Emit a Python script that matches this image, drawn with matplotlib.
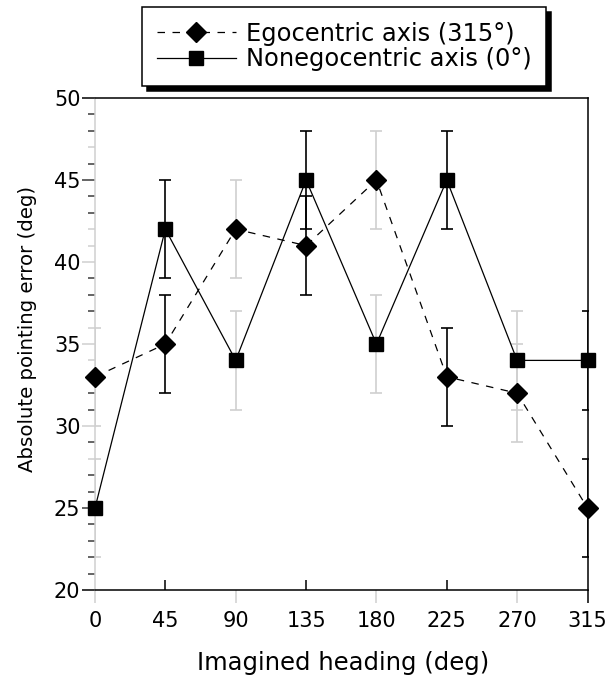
import matplotlib
matplotlib.use("Agg")
import matplotlib.pyplot as plt
import matplotlib.lines as mlines

plt.rcParams['font.family'] = ['DejaVu Sans']

# ---- data ----
headings = [0, 45, 90, 135, 180, 225, 270, 315]
ego = [33, 35, 42, 41, 45, 33, 32, 25]
ego_err = [3, 3, 3, 3, 3, 3, 3, 3]
nonego = [25, 42, 34, 45, 35, 45, 34, 34]
nonego_err = [3, 3, 3, 3, 3, 3, 3, 3]
x_ticks = [0, 45, 90, 135, 180, 225, 270, 315]
y_ticks = [20, 25, 30, 35, 40, 45, 50]
legend_labels = ["Egocentric axis (315°)", "Nonegocentric axis (0°)"]
xlabel = "Imagined heading (deg)"
ylabel = "Absolute pointing error (deg)"

DARK = '#3a3a3a'
LIGHT = '#cfcfcf'

W, H = 609, 678
fig = plt.figure(figsize=(W / 100, H / 100), dpi=100)
ax = fig.add_axes([95 / W, 1 - 590 / H, (587.5 - 95) / W, (590 - 98) / H])
ax.set_xlim(0, 315)
ax.set_ylim(20, 50)

# error bars: gray at even positions, black at odd positions
for idx_parity, col in ((0, LIGHT), (1, 'black')):
    idx = [i for i in range(len(headings)) if i % 2 == idx_parity]
    for vals, errs in ((ego, ego_err), (nonego, nonego_err)):
        ax.errorbar([headings[i] for i in idx], [vals[i] for i in idx],
                    yerr=[errs[i] for i in idx], fmt='none', ecolor=col,
                    elinewidth=1.2, capsize=4.3, capthick=1.2, zorder=2)

# lines
ax.plot(headings, ego, color='black', lw=0.9, ls=(0, (6, 6)), zorder=3, clip_on=False)
ax.plot(headings, nonego, color='black', lw=0.9, ls='-', zorder=3, clip_on=False)
# markers
ax.plot(headings, ego, ls='none', marker='D', ms=9.8, mfc='black', mec='black',
        zorder=4, clip_on=False)
ax.plot(headings, nonego, ls='none', marker='s', ms=10, mfc='black', mec='black',
        zorder=4, clip_on=False)

# spines
for s in ('top', 'bottom', 'right'):
    ax.spines[s].set_color('black')
    ax.spines[s].set_linewidth(1.1)
ax.spines['left'].set_color(LIGHT)
ax.spines['left'].set_linewidth(1.1)

# tick labels only
ax.set_xticks(x_ticks)
ax.set_yticks(y_ticks)
ax.tick_params(axis='both', length=0, labelsize=15)
ax.tick_params(axis='x', pad=15)
ax.tick_params(axis='y', pad=10.5)

# custom tick marks
xt = ax.get_xaxis_transform()
yt = ax.get_yaxis_transform()
for i, xv in enumerate(x_ticks):
    if xv == x_ticks[-1]:
        ax.plot([xv], [0], transform=xt, marker=mlines.TICKDOWN, ms=9, mew=1.1,
                color='black', ls='none', clip_on=False)
    elif i % 2 == 0:
        ax.plot([xv], [0], transform=xt, marker=mlines.TICKDOWN, ms=9, mew=1.1,
                color=LIGHT, ls='none', clip_on=False)
    else:
        ax.plot([xv], [0], transform=xt, marker=mlines.TICKUP, ms=7, mew=1.1,
                color='black', ls='none', clip_on=False)

light_y = [47, 42, 41, 40, 36, 35, 34, 30, 28]
for yv in range(20, 51):
    major = yv % 5 == 0
    col = LIGHT if yv in light_y else DARK
    if major and yv in (20, 50):
        col = 'black'
    ax.plot([0], [yv], transform=yt, marker=mlines.TICKLEFT, ms=9.7 if major else 5,
            mew=1.1, color=col, ls='none', clip_on=False, zorder=1)

# axis labels
fig.text(28 / W, 1 - 329 / H, ylabel, rotation=90, ha='center', va='center', fontsize=14.2)
fig.text(343 / W, 1 - 663 / H, xlabel, ha='center', va='center', fontsize=17.5)

# legend
h1 = mlines.Line2D([], [], color='black', lw=0.9, ls=(0, (6, 6)), marker='D', ms=9.8)
h2 = mlines.Line2D([], [], color='black', lw=0.9, ls='-', marker='s', ms=10)
leg = fig.legend([h1, h2], legend_labels, loc='upper left',
                 bbox_to_anchor=(142 / W, 1 - 7 / H), bbox_transform=fig.transFigure,
                 fontsize=17.4, frameon=True, fancybox=False, framealpha=1,
                 edgecolor='black', handlelength=3.3, handletextpad=0.41,
                 borderpad=0.6, labelspacing=0.08, borderaxespad=0,
                 shadow={'ox': 3.5, 'oy': -3.5, 'color': 'black', 'alpha': 1})
leg.get_frame().set_linewidth(1.1)

fig.savefig('out.png', dpi=100)
